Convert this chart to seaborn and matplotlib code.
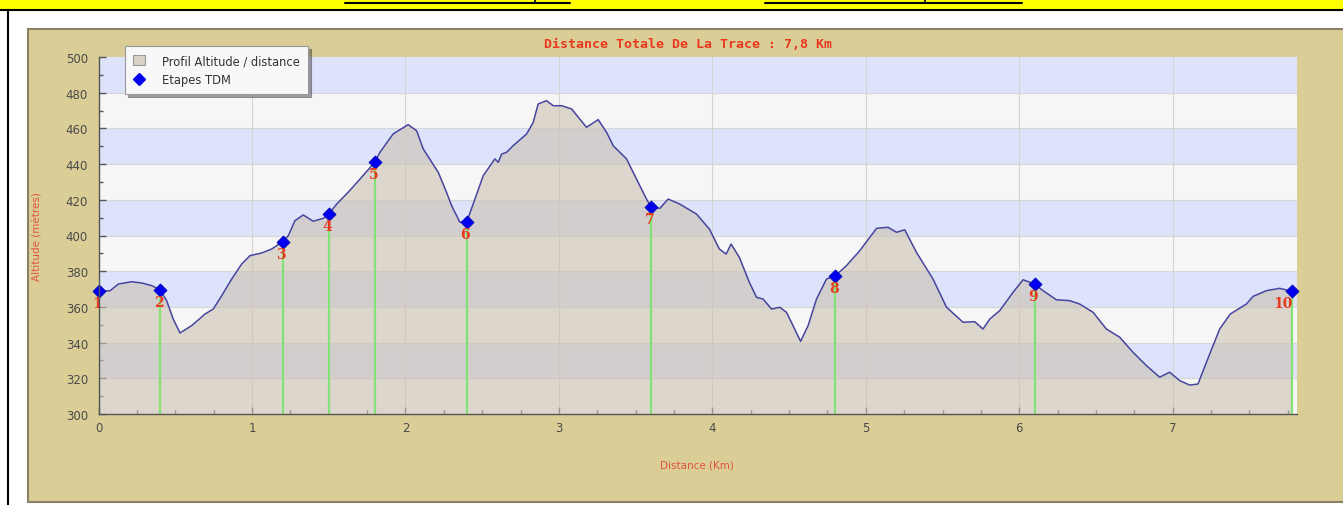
import numpy as np
import pandas as pd
import matplotlib
matplotlib.use("Agg")
import matplotlib.pyplot as plt
import seaborn as sns
from matplotlib.patches import Rectangle, Patch
from matplotlib.lines import Line2D

# ---------------- data ----------------
distance_km = [0.0, 0.075, 0.129, 0.216, 0.281, 0.347, 0.40, 0.444, 0.487, 0.531,
               0.607, 0.694, 0.748, 0.803, 0.868, 0.933, 0.987, 1.063, 1.128, 1.20,
               1.237, 1.280, 1.334, 1.399, 1.465, 1.50, 1.552, 1.627, 1.704, 1.80,
               1.834, 1.920, 2.018, 2.073, 2.116, 2.214, 2.268, 2.301, 2.355, 2.40,
               2.453, 2.507, 2.583, 2.605, 2.627, 2.659, 2.702, 2.790, 2.833, 2.865,
               2.920, 2.963, 3.018, 3.083, 3.180, 3.256, 3.311, 3.354, 3.441, 3.506,
               3.571, 3.60, 3.658, 3.712, 3.788, 3.897, 3.981, 4.046, 4.090, 4.122,
               4.176, 4.241, 4.288, 4.331, 4.386, 4.440, 4.483, 4.526, 4.575, 4.624,
               4.679, 4.744, 4.80, 4.874, 4.961, 5.070, 5.145, 5.200, 5.254, 5.330,
               5.438, 5.526, 5.634, 5.710, 5.764, 5.808, 5.873, 5.960, 6.025, 6.10,
               6.155, 6.242, 6.329, 6.394, 6.481, 6.568, 6.655, 6.741, 6.829, 6.915,
               6.980, 7.046, 7.111, 7.165, 7.220, 7.306, 7.375, 7.480, 7.524, 7.611,
               7.697, 7.78]
altitude_m = [369.0, 369.0, 372.8, 374.1, 373.4, 371.9, 369.6, 363.5, 353.2, 345.4,
              349.5, 356.0, 358.8, 366.3, 375.6, 384.0, 388.7, 390.2, 392.4, 396.5,
              399.9, 408.3, 411.5, 408.0, 409.6, 412.0, 417.6, 424.2, 431.6, 441.0,
              446.6, 456.9, 462.1, 458.7, 448.5, 435.4, 424.2, 416.7, 407.4, 407.7,
              420.4, 433.5, 442.9, 441.0, 445.6, 446.6, 450.3, 456.9, 463.4, 473.7,
              475.5, 472.7, 472.7, 470.9, 460.6, 464.9, 457.8, 450.3, 442.9, 431.6,
              420.4, 416.0, 415.2, 420.4, 417.6, 412.0, 403.6, 392.4, 389.6, 395.2,
              387.8, 373.8, 365.4, 364.4, 358.8, 359.8, 357.0, 349.5, 340.7, 349.5,
              364.4, 375.6, 377.3, 383.1, 391.5, 404.0, 404.6, 401.8, 403.2, 390.6,
              375.6, 359.8, 351.4, 351.7, 347.6, 353.2, 357.9, 368.2, 375.2, 372.8,
              369.1, 364.0, 363.5, 361.6, 357.0, 347.6, 343.0, 334.6, 327.1, 320.6,
              323.4, 318.7, 316.2, 316.8, 329.0, 347.6, 356.0, 361.6, 365.9, 369.1,
              370.4, 368.7]

step_km = [0.0, 0.40, 1.20, 1.50, 1.80, 2.40, 3.60, 4.80, 6.10, 7.78]
step_alt = [369.0, 369.6, 396.5, 412.0, 441.0, 407.7, 416.0, 377.3, 372.8, 368.7]
step_labels = ["1", "2", "3", "4", "5", "6", "7", "8", "9", "10"]

x_ticks = [0, 1, 2, 3, 4, 5, 6, 7]
y_ticks = [300, 320, 340, 360, 380, 400, 420, 440, 460, 480, 500]

title_text = "Distance Totale De La Trace : 7,8 Km"
xlabel_text = "Distance (Km)"
ylabel_text = "Altitude (mètres)"
legend_profile = "Profil Altitude / distance"
legend_steps = "Etapes TDM"

profile = pd.DataFrame({"distance": distance_km, "altitude": altitude_m})
steps = pd.DataFrame({"distance": step_km, "altitude": step_alt, "label": step_labels})

# ---------------- figure ----------------
sns.set_theme(style="white")
W, H = 1343, 506
fig = plt.figure(figsize=(W / 100, H / 100), dpi=100)
fig.patch.set_facecolor("white")

def fx(px):
    return px / W

def fy(py):
    return 1 - py / H

# yellow banner
fig.patches.append(Rectangle((0, fy(11)), 1, 11 / H, transform=fig.transFigure,
                             facecolor="#ffff00", edgecolor="none", zorder=-2))
fig.lines.append(Line2D([0, 1], [fy(11), fy(11)], transform=fig.transFigure,
                        color="black", lw=1.5, zorder=-1))
for a, b in [(345, 570), (765, 1022)]:
    fig.lines.append(Line2D([fx(a), fx(b)], [fy(4), fy(4)], transform=fig.transFigure,
                            color="black", lw=1.5, zorder=-1))
for t in (535, 925):
    fig.lines.append(Line2D([fx(t), fx(t)], [fy(0), fy(4)], transform=fig.transFigure,
                            color="black", lw=1.2, zorder=-1))
# left black border
fig.lines.append(Line2D([fx(8), fx(8)], [fy(11), 0], transform=fig.transFigure,
                        color="black", lw=1.5, zorder=-1))
# tan panel
fig.patches.append(Rectangle((fx(28), fy(503)), fx(1343 - 28 + 5), (503 - 30) / H,
                             transform=fig.transFigure, facecolor="#dacd96",
                             edgecolor="#8a8266", lw=1.5, zorder=-2))

ax = fig.add_axes([fx(98.5), fy(415), fx(1297 - 98.5), (415 - 58) / H])
ax.set_zorder(1)
ax.set_facecolor("#f6f6f6")

# horizontal bands
for lo in range(300, 500, 20):
    band_color = "#dde3fb" if ((lo - 300) // 20) % 2 == 1 else "#f6f6f6"
    ax.axhspan(lo, lo + 20, color=band_color, lw=0, zorder=0)
for yv in range(320, 500, 20):
    ax.axhline(yv, color="#d6d6d6", lw=0.8, zorder=0.5)
for xv in x_ticks[1:]:
    ax.axvline(xv, color="#d4d4d4", lw=0.8, zorder=0.5)

# profile
ax.fill_between(profile["distance"], 300, profile["altitude"],
                color=(204 / 255, 193 / 255, 176 / 255), alpha=0.6, lw=0, zorder=1)
sns.lineplot(data=profile, x="distance", y="altitude", ax=ax, color="#45459e",
             lw=1.1, zorder=2, estimator=None)

# step lines and markers
ax.vlines(steps["distance"], 300, steps["altitude"], color="#82e276", lw=1.6, zorder=3)
sns.scatterplot(data=steps, x="distance", y="altitude", ax=ax, marker="D", s=45,
                color="#0000ee", edgecolor="#0000aa", linewidth=0.5, zorder=4, clip_on=False)
for i, r in steps.iterrows():
    dx = -9 if r["label"] == "10" else -1.5
    ax.annotate(r["label"], (r["distance"], r["altitude"]), xytext=(dx, -5),
                textcoords="offset pixels", ha="center", va="top", color="#e8391f",
                fontsize=10, fontweight="bold", family="DejaVu Serif", zorder=5,
                annotation_clip=False)

ax.set_xlim(0, 7.81)
ax.set_ylim(300, 500)
ax.set_xticks(x_ticks)
ax.set_xticklabels([str(v) for v in x_ticks])
ax.set_xticks(np.arange(0, 7.81, 0.25), minor=True)
ax.set_yticks(y_ticks)
ax.set_yticklabels([str(v) for v in y_ticks])
ax.set_yticks(np.arange(300, 501, 10), minor=True)
ax.tick_params(axis="both", which="major", direction="in", length=5, width=1,
               color="#555555", labelcolor="#4a4a4a", labelsize=8.5, pad=7.5)
ax.tick_params(axis="x", which="major", pad=5)
ax.tick_params(axis="both", which="minor", direction="in", length=3, width=1,
               color="#555555")
ax.tick_params(axis="x", which="both", bottom=True)
ax.tick_params(axis="y", which="both", left=True)
ax.set_xlabel("")
ax.set_ylabel("")
for s in ("top", "right"):
    ax.spines[s].set_visible(False)
for s in ("left", "bottom"):
    ax.spines[s].set_color("#555555")
    ax.spines[s].set_linewidth(1.0)
    ax.spines[s].set_zorder(6)

# texts
fig.text(fx(688), fy(45), title_text, ha="center", va="center", color="#e8391f",
         fontsize=9.5, fontweight="bold", family="DejaVu Sans Mono")
fig.text(fx(697), fy(466), xlabel_text, ha="center", va="center", color="#e0553a",
         fontsize=7.5)
fig.text(fx(37), fy(237), ylabel_text, ha="center", va="center", rotation=90,
         color="#e0553a", fontsize=7.5)

# legend
handles = [Patch(facecolor="#d9d2c6", edgecolor="#9a9a9a", lw=0.8),
           Line2D([], [], marker="D", color="#0000ee", ls="none", markersize=6)]
leg = fig.legend(handles, [legend_profile, legend_steps], loc="upper left",
                 bbox_to_anchor=(fx(125), fy(47)), borderaxespad=0, fontsize=8.3,
                 frameon=True, fancybox=False, shadow=True, borderpad=0.7,
                 handlelength=1.0, handleheight=1.0, handletextpad=1.5,
                 labelspacing=0.55)
leg.set_zorder(10)
leg.get_frame().set_facecolor("#f8f8f8")
leg.get_frame().set_edgecolor("#999999")
leg.get_frame().set_linewidth(0.8)
for t in leg.get_texts():
    t.set_color("#333333")

fig.savefig("out.png", dpi=100)
